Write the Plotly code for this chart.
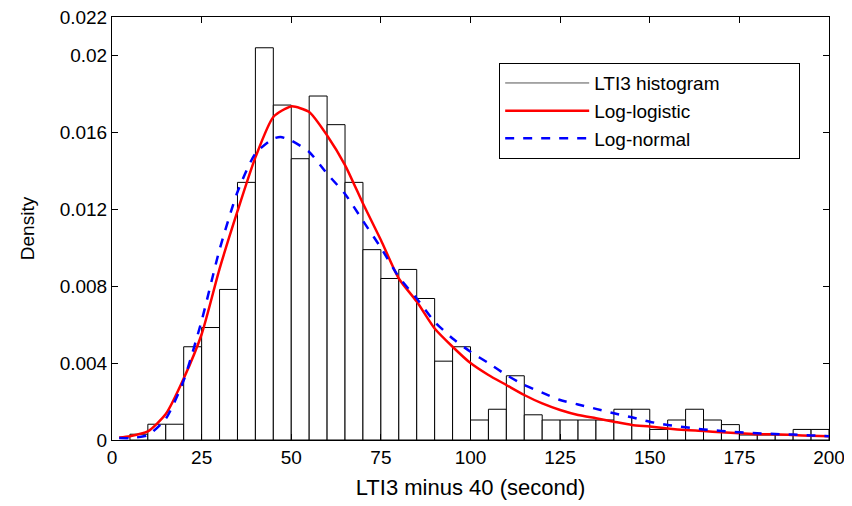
"""LTI3 histogram with fitted log-logistic and log-normal densities."""

import plotly.graph_objects as go

# Histogram: bin left edges (width 5) and densities
bin_left = [5, 10, 15, 20, 25, 30, 35, 40, 45, 50, 55, 60, 65, 70, 75, 80, 85, 90, 95,
            100, 105, 110, 115, 120, 125, 130, 135, 140, 145, 150, 155, 160, 165, 170,
            175, 180, 185, 190, 195]
bin_density = [0.0003, 0.00082, 0.00082, 0.00485, 0.00585, 0.00783, 0.0134, 0.0204,
               0.01742, 0.01463, 0.01789, 0.0164, 0.0134, 0.0099, 0.0084, 0.00887,
               0.00736, 0.0041, 0.00485, 0.00104, 0.0016, 0.00334, 0.00131, 0.00104,
               0.00104, 0.00104, 0.00104, 0.0016, 0.0016, 0.00055, 0.00104, 0.0016,
               0.00104, 0.0008, 0.00026, 0.00026, 0.00026, 0.00055, 0.00055]
bin_width = 5

# Log-logistic fit
ll_x = [2, 5, 10, 15, 20, 25, 30, 35, 40, 45, 50, 55, 60, 65, 70, 75, 80, 85, 90, 95,
        100, 105, 110, 115, 120, 125, 130, 135, 140, 145, 150, 155, 160, 165, 170, 175,
        180, 185, 190, 195, 200]
ll_y = [0.00013, 0.0002, 0.00045, 0.00135, 0.0032, 0.0055, 0.0089, 0.0119, 0.0147,
        0.0168, 0.01735, 0.01706, 0.01584, 0.0143, 0.0123, 0.0104, 0.0084, 0.0072,
        0.0058, 0.00485, 0.0040, 0.00338, 0.00286, 0.00234, 0.0019, 0.00156, 0.0013,
        0.00113, 0.00095, 0.00078, 0.0007, 0.0006, 0.00052, 0.00047, 0.0004, 0.00035,
        0.0003, 0.0003, 0.00026, 0.00022, 0.0002]

# Log-normal fit
ln_x = [2, 5, 10, 15, 20, 25, 30, 35, 40, 45, 47, 50, 55, 60, 65, 70, 75, 80, 85, 90,
        95, 100, 105, 110, 115, 120, 125, 130, 135, 140, 145, 150, 155, 160, 165, 170,
        175, 180, 185, 190, 195, 200]
ln_y = [0.0001, 0.0001, 0.00025, 0.0011, 0.0031, 0.0062, 0.0099, 0.0129, 0.0149,
        0.01567, 0.01576, 0.01558, 0.01498, 0.01385, 0.0128, 0.0114, 0.0100, 0.00848,
        0.00736, 0.00615, 0.00528, 0.00459, 0.004, 0.00338, 0.00286, 0.00246, 0.00208,
        0.00185, 0.00162, 0.00139, 0.00118, 0.00095, 0.00078, 0.00066, 0.00055, 0.00047,
        0.0004, 0.00035, 0.00031, 0.00028, 0.00024, 0.0002]

x_ticks = [0, 25, 50, 75, 100, 125, 150, 175, 200]
y_ticks = [0, 0.004, 0.008, 0.012, 0.016, 0.02, 0.022]
y_tick_text = ["0", "0.004", "0.008", "0.012", "0.016", "0.02", "0.022"]

FONT = "Liberation Sans, Arial, Helvetica, sans-serif"
PAD = "\u00a0" * 14  # widens the legend box to the original's size

fig = go.Figure()

# Histogram bars
fig.add_trace(go.Bar(
    x=[b + bin_width / 2 for b in bin_left],
    y=bin_density,
    width=bin_width,
    marker=dict(color="white", line=dict(color="black", width=1)),
    showlegend=False,
    hoverinfo="x+y",
))

# Legend-only entry for the histogram (thin grey line, as in the original)
fig.add_trace(go.Scatter(
    x=[None], y=[None], mode="lines",
    line=dict(color="#555555", width=1),
    name="LTI3 histogram" + PAD,
))

fig.add_trace(go.Scatter(
    x=ll_x, y=ll_y, mode="lines",
    line=dict(color="#ff0000", width=2.5, shape="spline", smoothing=0.6),
    name="Log-logistic",
))

fig.add_trace(go.Scatter(
    x=ln_x, y=ln_y, mode="lines",
    line=dict(color="#0000ff", width=2.5, dash="dash", shape="spline", smoothing=0.6),
    name="Log-normal",
))

# The page body adds an 8px margin, so the figure is 8px smaller on each side
fig.update_layout(
    width=844, height=498,
    margin=dict(l=104, r=23, t=9, b=66),
    paper_bgcolor="white",
    plot_bgcolor="white",
    font=dict(family=FONT, size=19, color="black"),
    showlegend=True,
    legend=dict(
        x=0.54, y=0.891, xanchor="left", yanchor="top",
        bgcolor="white", bordercolor="black", borderwidth=1,
        font=dict(family=FONT, size=19, color="black"),
        itemwidth=84,
        tracegroupgap=0,
    ),
)

axis_common = dict(
    showline=True, linecolor="black", linewidth=1, mirror="ticks",
    ticks="inside", ticklen=6, tickcolor="black",
    showgrid=False, zeroline=False,
    automargin=False,
    ticklabeloverflow="allow",
    tickfont=dict(family=FONT, size=19, color="black"),
)

fig.update_xaxes(
    range=[0, 200], tickvals=x_ticks,
    title=dict(text="LTI3 minus 40 (second)", font=dict(family=FONT, size=22), standoff=12),
    **axis_common,
)
fig.update_yaxes(
    range=[0, 0.0220001], tickvals=y_ticks, ticktext=y_tick_text,
    title=dict(text="Density", font=dict(family=FONT, size=19), standoff=20),
    **axis_common,
)

fig.write_html("out.html")
